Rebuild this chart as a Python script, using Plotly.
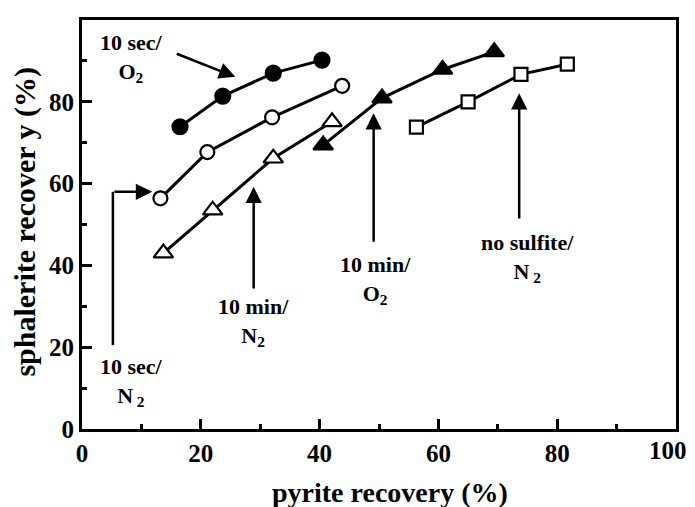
import plotly.graph_objects as go

# ---- data ----
x_10s_O2 = [16.5, 23.7, 32.2, 40.4]
y_10s_O2 = [73.9, 81.4, 87.0, 90.2]
x_10s_N2 = [13.2, 21.1, 32.0, 43.8]
y_10s_N2 = [56.4, 67.7, 76.2, 83.9]
x_10m_N2 = [13.7, 22.0, 32.2, 42.1]
y_10m_N2 = [43.0, 53.5, 66.2, 75.1]
x_10m_O2 = [40.6, 50.5, 60.7, 69.4]
y_10m_O2 = [69.4, 80.9, 87.9, 92.2]
x_nos_N2 = [56.3, 65.0, 73.9, 81.7]
y_nos_N2 = [73.8, 80.0, 86.7, 89.2]

x_ticks = [0, 20, 40, 60, 80, 100]
y_ticks = [0, 20, 40, 60, 80, 100]

FONT = "Liberation Serif, Times New Roman, Times, serif"
BLACK = "#000000"

fig = go.Figure()

def add_series(xs, ys, symbol, filled, size):
    fig.add_trace(go.Scatter(
        x=xs, y=ys, mode="lines+markers",
        line=dict(color=BLACK, width=3),
        marker=dict(symbol=symbol, size=size,
                    color=BLACK if filled else "white",
                    line=dict(color=BLACK, width=2.2)),
        showlegend=False, cliponaxis=False,
    ))

add_series(x_10s_O2, y_10s_O2, "circle", True, 15)
add_series(x_10s_N2, y_10s_N2, "circle", False, 14)
add_series(x_10m_N2, y_10m_N2, "triangle-up", False, 17)
add_series(x_10m_O2, y_10m_O2, "triangle-up", True, 17)
add_series(x_nos_N2, y_nos_N2, "square", False, 13)

# ---- annotations ----
labels = [
    ("10 sec/<br>O<sub>2</sub>", 8.3, 90.7),
    ("10 sec/<br>N<sub> 2</sub>", 8.3, 11.5),
    ("10 min/<br>N<sub>2</sub>", 28.9, 26.2),
    ("10 min/<br>O<sub>2</sub>", 49.4, 36.4),
    ("no sulfite/<br>N<sub> 2</sub>", 75.0, 41.8),
]
for txt, x, y in labels:
    fig.add_annotation(x=x, y=y, xref="x", yref="y", text="<b>" + txt + "</b>",
                       showarrow=False,
                       font=dict(family=FONT, size=22, color=BLACK),
                       align="center")

arrows = [
    # (tail_x, tail_y, head_x, head_y)
    (15.7, 91.9, 25.8, 86.1),
    (5.2, 58.0, 11.8, 58.0),
    (28.9, 34.0, 28.9, 59.2),
    (49.1, 45.4, 49.1, 77.2),
    (73.6, 51.1, 73.6, 82.1),
]
for tx, ty, hx, hy in arrows:
    fig.add_annotation(x=hx, y=hy, ax=tx, ay=ty, xref="x", yref="y",
                       axref="x", ayref="y", text="", showarrow=True,
                       arrowhead=2, arrowsize=1.3, arrowwidth=2.5,
                       arrowcolor=BLACK)

# vertical part of the elbow arrow for "10 sec/N2"
fig.add_shape(type="line", x0=5.2, x1=5.2, y0=20.5, y1=58.0,
              xref="x", yref="y", line=dict(color=BLACK, width=2.5))

# axis titles
fig.add_annotation(x=0.5185, y=-0.155, xref="paper", yref="paper",
                   text="<b>pyrite recovery (%)</b>", showarrow=False,
                   font=dict(family=FONT, size=28, color=BLACK),
                   xanchor="center", yanchor="middle")
fig.add_annotation(x=-0.096, y=0.507, xref="paper", yref="paper",
                   text="<b>sphalerite recover y (%)</b>", showarrow=False,
                   textangle=-90,
                   font=dict(family=FONT, size=30, color=BLACK),
                   xanchor="center", yanchor="middle")

TICKFONT = dict(family=FONT, size=25, color=BLACK, weight="bold")

# last x tick label, nudged left so it stays inside the page
fig.add_annotation(x=x_ticks[-1], y=0, xref="x", yref="y",
                   text=str(x_ticks[-1]), showarrow=False,
                   font=TICKFONT, xanchor="center", yanchor="top",
                   xshift=-8, yshift=-6)

axis_common = dict(
    showgrid=False, zeroline=False, showline=True, linecolor=BLACK,
    linewidth=3, mirror=True, ticks="inside", ticklen=10, tickwidth=2.5,
    tickcolor=BLACK, automargin=False,
    tickfont=TICKFONT,
    minor=dict(ticks="inside", ticklen=5, tickwidth=2.5, dtick=10,
               tickcolor=BLACK),
)

fig.update_xaxes(range=[0, 100], tickvals=x_ticks,
                 ticktext=[str(v) for v in x_ticks[:-1]] + [""],
                 **axis_common)
fig.update_yaxes(range=[0, 100], tickvals=y_ticks, **axis_common)

# page body adds an 8px offset; the figure is sized to compensate
fig.update_layout(
    width=687, height=499,
    margin=dict(l=74, r=19, t=12, b=78, autoexpand=False),
    paper_bgcolor="white", plot_bgcolor="white",
    font=dict(family=FONT, color=BLACK),
)

fig.write_html("out.html")
